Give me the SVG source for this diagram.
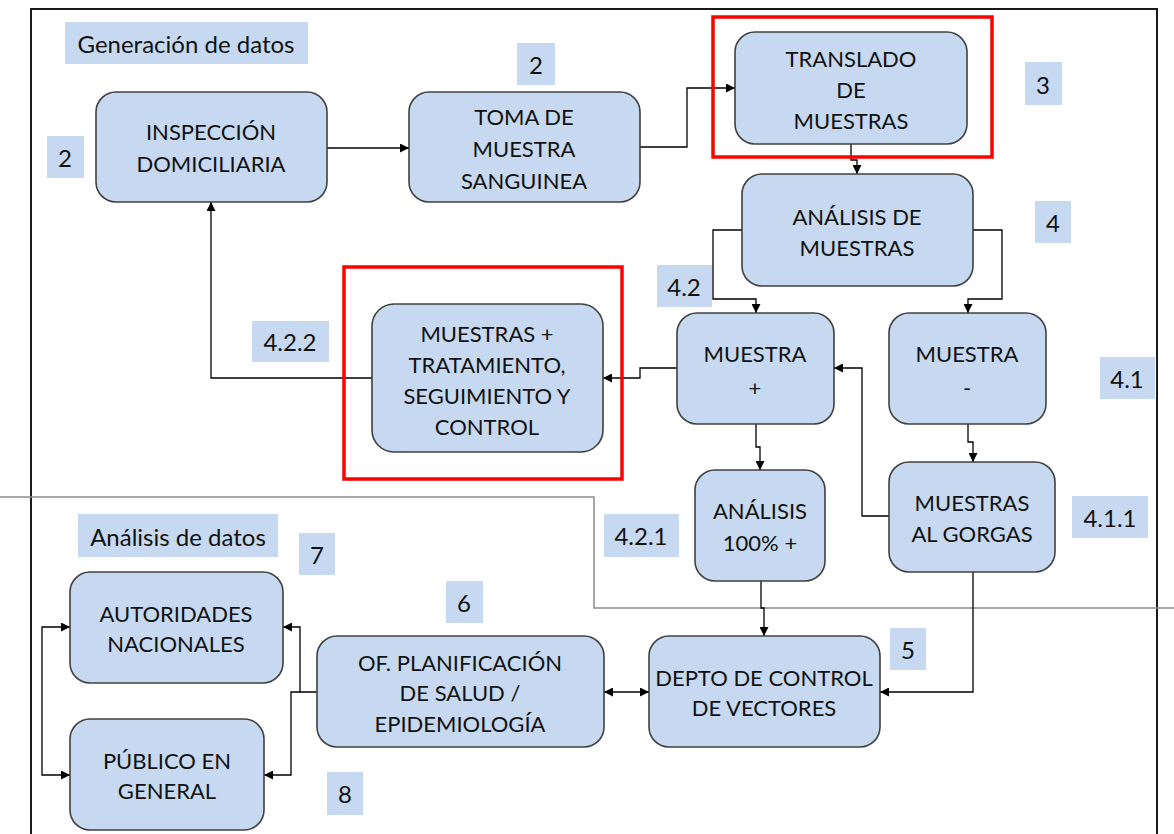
<svg xmlns="http://www.w3.org/2000/svg" width="1174" height="834" viewBox="0 0 1174 834">
  <defs>
    <marker id="ah" viewBox="0 0 10 10" refX="10" refY="5" markerWidth="9" markerHeight="9" markerUnits="userSpaceOnUse" orient="auto-start-reverse">
      <path d="M0,0 L10,5 L0,10 z" fill="#000"/>
    </marker>
    <style>
      .frame{fill:none;stroke:#1a1a1a;stroke-width:2}
      .divider{fill:none;stroke:#8c8c8c;stroke-width:1.5}
      .node rect{fill:#c6d9f1;stroke:#404040;stroke-width:1.6}
      .tag rect{fill:#c6d9f1}
      text{font-family:Lato,"Liberation Sans",sans-serif;fill:#111;text-anchor:middle;dominant-baseline:central}
      .node text{font-size:22px}
      .tag text{font-size:24px}
      .hl{fill:none;stroke:#ff0000;stroke-width:3.5}
      .wire{fill:none;stroke:#000;stroke-width:1.3;marker-end:url(#ah)}
      .both{marker-start:url(#ah)}
    </style>
  </defs>

  <rect width="1174" height="834" fill="#fff"/>

  <!-- outer frame and section divider -->
  <path class="frame" d="M31,834 V9 H1157 V834"/>
  <path class="divider" d="M0,497 H594 V608 H1174"/>

  <!-- step tags -->
  <g id="tag-generacion" class="tag"><rect x="65" y="22" width="243" height="42"/><text x="186" y="43">Generación de datos</text></g>
  <g id="tag-2a" class="tag"><rect x="47" y="136" width="37" height="42"/><text x="65" y="157">2</text></g>
  <g id="tag-2b" class="tag"><rect x="517" y="43" width="38" height="42"/><text x="536" y="64">2</text></g>
  <g id="tag-3" class="tag"><rect x="1025" y="62" width="37" height="43"/><text x="1043" y="84">3</text></g>
  <g id="tag-4" class="tag"><rect x="1035" y="201" width="36" height="42"/><text x="1053" y="222">4</text></g>
  <g id="tag-4-2" class="tag"><rect x="657" y="265" width="55" height="42"/><text x="684" y="286">4.2</text></g>
  <g id="tag-4-2-2" class="tag"><rect x="252" y="321" width="77" height="41"/><text x="290" y="341">4.2.2</text></g>
  <g id="tag-4-1" class="tag"><rect x="1100" y="357" width="55" height="42"/><text x="1127" y="378">4.1</text></g>
  <g id="tag-4-1-1" class="tag"><rect x="1072" y="496" width="76" height="42"/><text x="1110" y="517">4.1.1</text></g>
  <g id="tag-4-2-1" class="tag"><rect x="604" y="514" width="75" height="43"/><text x="641" y="535">4.2.1</text></g>
  <g id="tag-analisis" class="tag"><rect x="78" y="514" width="200" height="43"/><text x="178" y="536">Análisis de datos</text></g>
  <g id="tag-7" class="tag"><rect x="299" y="533" width="36" height="42"/><text x="317" y="554">7</text></g>
  <g id="tag-6" class="tag"><rect x="446" y="581" width="37" height="42"/><text x="464" y="602">6</text></g>
  <g id="tag-5" class="tag"><rect x="890" y="628" width="36" height="42"/><text x="908" y="649">5</text></g>
  <g id="tag-8" class="tag"><rect x="327" y="772" width="36" height="43"/><text x="345" y="793">8</text></g>

  <!-- connectors -->
  <g id="connectors">
    <path class="wire" d="M327,148 H409"/>
    <path class="wire" d="M640,147 H687 V88 H735"/>
    <path class="wire" d="M851,144 V160 H857 V174"/>
    <path class="wire" d="M742,230 H713 V299 H756 V313"/>
    <path class="wire" d="M973,230 H1002 V299 H968 V313"/>
    <path class="wire" d="M756,424 V447 H760 V470"/>
    <path class="wire" d="M968,424 V442 H973 V462"/>
    <path class="wire" d="M889,516 H862 V368 H834"/>
    <path class="wire" d="M677,368 H640 V378 H603"/>
    <path class="wire" d="M372,378 H211 V202"/>
    <path class="wire" d="M761,581 V608 H764 V636"/>
    <path class="wire" d="M973,572 V692 H880"/>
    <path class="wire both" d="M604,692 H649"/>
    <path class="wire" d="M317,692 H300 V627 H283"/>
    <path class="wire" d="M300,692 H291 V775 H264"/>
    <path class="wire both" d="M70,627 H42 V775 H70"/>
  </g>

  <!-- process nodes -->
  <g id="inspeccion" class="node"><rect x="96" y="92" width="231" height="110" rx="20"/><text x="211" y="131">INSPECCIÓN</text><text x="211" y="163">DOMICILIARIA</text></g>
  <g id="toma" class="node"><rect x="409" y="92" width="231" height="110" rx="20"/><text x="524" y="116">TOMA DE</text><text x="524" y="148">MUESTRA</text><text x="524" y="180">SANGUINEA</text></g>
  <g id="translado" class="node"><rect x="735" y="32" width="232" height="112" rx="20"/><text x="851" y="58">TRANSLADO</text><text x="851" y="89">DE</text><text x="851" y="120">MUESTRAS</text></g>
  <g id="analisis-muestras" class="node"><rect x="742" y="174" width="231" height="112" rx="20"/><text x="857" y="216">ANÁLISIS DE</text><text x="857" y="247">MUESTRAS</text></g>
  <g id="muestra-pos" class="node"><rect x="677" y="313" width="157" height="111" rx="20"/><text x="755" y="353">MUESTRA</text><text x="755" y="387">+</text></g>
  <g id="muestra-neg" class="node"><rect x="889" y="313" width="157" height="111" rx="20"/><text x="967" y="353">MUESTRA</text><text x="967" y="387">-</text></g>
  <g id="tratamiento" class="node"><rect x="372" y="304" width="231" height="148" rx="22"/><text x="487" y="333">MUESTRAS +</text><text x="487" y="364">TRATAMIENTO,</text><text x="487" y="395">SEGUIMIENTO Y</text><text x="487" y="426">CONTROL</text></g>
  <g id="analisis-100" class="node"><rect x="695" y="470" width="130" height="111" rx="20"/><text x="760" y="510">ANÁLISIS</text><text x="760" y="542">100% +</text></g>
  <g id="gorgas" class="node"><rect x="889" y="462" width="166" height="110" rx="20"/><text x="972" y="502">MUESTRAS</text><text x="972" y="533">AL GORGAS</text></g>
  <g id="autoridades" class="node"><rect x="70" y="572" width="213" height="111" rx="20"/><text x="176" y="613">AUTORIDADES</text><text x="176" y="643">NACIONALES</text></g>
  <g id="publico" class="node"><rect x="70" y="719" width="194" height="111" rx="20"/><text x="167" y="760">PÚBLICO EN</text><text x="167" y="790">GENERAL</text></g>
  <g id="planificacion" class="node"><rect x="317" y="636" width="287" height="111" rx="20"/><text x="460" y="662">OF. PLANIFICACIÓN</text><text x="460" y="692">DE SALUD /</text><text x="460" y="723">EPIDEMIOLOGÍA</text></g>
  <g id="depto" class="node"><rect x="649" y="636" width="231" height="111" rx="20"/><text x="764" y="677">DEPTO DE CONTROL</text><text x="764" y="707">DE VECTORES</text></g>

  <!-- highlight frames -->
  <rect class="hl" x="713" y="17" width="279" height="140"/>
  <rect class="hl" x="344" y="267" width="278" height="212"/>
</svg>
